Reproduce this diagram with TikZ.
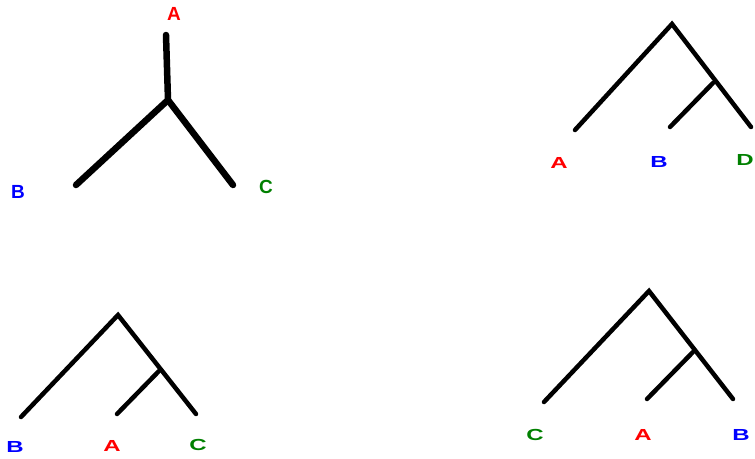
\documentclass[tikz,border=0pt]{standalone}
\usepackage{fontspec}
\setmainfont{Liberation Sans}
\definecolor{tred}{RGB}{255,0,0}
\definecolor{tblue}{RGB}{0,0,255}
\definecolor{tgreen}{RGB}{0,128,0}
\begin{document}
\begin{tikzpicture}[x=1pt,y=-1pt,
  thick branch/.style={line width=6.5pt,line cap=round,black},
  branch/.style={line width=4.5pt,line cap=round,black},
  lab/.style={font=\bfseries\fontsize{19}{19}\selectfont,inner sep=0pt},
  wlab/.style={font=\bfseries\fontsize{16}{16}\selectfont,inner sep=0pt,xscale=1.5}]
\useasboundingbox (0,0) rectangle (755,458);
% Tree 1 (unrooted)
\coordinate (c1) at (168,100);
\coordinate (a1) at (166,35);
\coordinate (b1) at (76,185);
\coordinate (k1) at (233,185);
\draw[thick branch] (a1) -- (c1) -- (b1);
\draw[thick branch] (c1) -- (k1);
\node[lab,text=tred] (la1) at (174,14) {A};
\node[lab,text=tblue] (lb1) at (18,192) {B};
\node[lab,text=tgreen] (lc1) at (266,187) {C};
% Tree 2
\coordinate (r2) at (672,24);
\coordinate (i2) at (713,83);
\coordinate (a2) at (575,130);
\coordinate (b2) at (670,127);
\coordinate (d2) at (751,127);
\draw[branch] (a2) -- (r2) -- (d2);
\draw[branch] (i2) -- (b2);
\node[wlab,text=tred] (la2) at (559,163) {A};
\node[wlab,text=tblue] (lb2) at (659,162) {B};
\node[wlab,text=tgreen] (ld2) at (745,160) {D};
% Tree 3
\coordinate (r3) at (118,315);
\coordinate (i3) at (159,371);
\coordinate (b3) at (21,417);
\coordinate (a3) at (117,414);
\coordinate (c3) at (196,414);
\draw[branch] (b3) -- (r3) -- (c3);
\draw[branch] (i3) -- (a3);
\node[wlab,text=tblue] (lb3) at (15,447) {B};
\node[wlab,text=tred] (la3) at (112,446) {A};
\node[wlab,text=tgreen] (lc3) at (198,445) {C};
% Tree 4
\coordinate (r4) at (649,291);
\coordinate (i4) at (693,352);
\coordinate (c4) at (544,402);
\coordinate (a4) at (647,399);
\coordinate (b4) at (733,399);
\draw[branch] (c4) -- (r4) -- (b4);
\draw[branch] (i4) -- (a4);
\node[wlab,text=tgreen] (lc4) at (535,435) {C};
\node[wlab,text=tred] (la4) at (643,435) {A};
\node[wlab,text=tblue] (lb4) at (741,435) {B};
\end{tikzpicture}
\end{document}
